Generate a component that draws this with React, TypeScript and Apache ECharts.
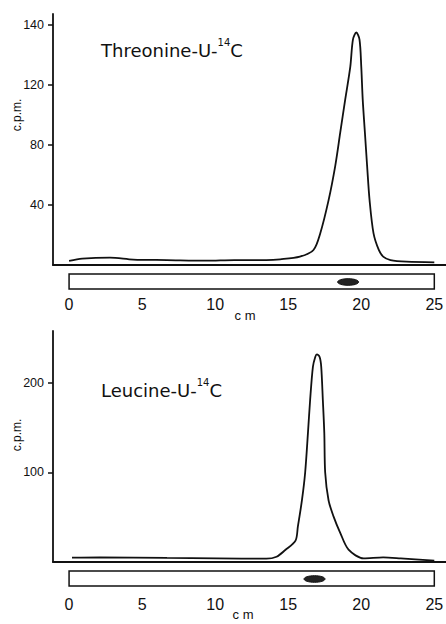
import React, { useEffect, useRef } from "react";
import * as echarts from "echarts";

// ---- Data ----
const threonineCm = [0, 0.9, 2.8, 4.4, 6.7, 9.4, 11.3, 13.5, 14.45, 15.8, 16.73, 17.19, 17.76, 18.22, 18.56, 18.9, 19.25, 19.43, 19.66, 19.88, 20.0, 20.1, 20.25, 20.4, 20.57, 20.84, 21.2, 21.5, 22.0, 23.1, 25.0];
const threonineCpm = [2.7, 4.2, 4.9, 3.6, 3.3, 2.9, 3.3, 3.3, 3.8, 5.6, 10, 21, 43, 66, 88, 110, 132, 150, 154.7, 150, 132, 110, 88, 66, 43, 21, 10, 5.6, 3.3, 2.2, 1.8];
const threonineSpot = 19.1;
const threonineTickValues = [40, 80, 120, 160];
const threonineTickLabels = ["40", "80", "120", "140"];

const leucineCm = [0.2, 2.1, 6.7, 10.1, 13.5, 14.2, 14.8, 15.5, 15.66, 15.94, 16.16, 16.35, 16.5, 16.69, 16.85, 16.96, 17.15, 17.26, 17.37, 17.47, 17.53, 17.76, 18.1, 18.56, 19.13, 20.16, 21.5, 22.7, 25.0];
const leucineCpm = [4.8, 5.2, 4.5, 4.1, 3.7, 5.9, 13.4, 23.8, 39.5, 69, 100, 144, 181, 218, 229, 232, 229, 218, 181, 144, 100, 69, 51, 32.6, 13.8, 4.1, 5.2, 4.1, 1.5];
const leucineSpot = 16.8;
const leucineTickValues = [100, 200];
const leucineTickLabels = ["100", "200"];

const xTickValues = [0, 5, 10, 15, 20, 25];
const stripRange = [0, 25];

const INK = "#111";

function zip(xs: number[], ys: number[]) {
  return xs.map((x, i) => [x, ys[i]]);
}

function stripSeries(gridIdx: number) {
  return {
    type: "custom",
    xAxisIndex: gridIdx,
    yAxisIndex: gridIdx,
    clip: false,
    silent: true,
    encode: { x: [0, 1] },
    data: [[stripRange[0], stripRange[1]]],
    renderItem: (params: any, api: any) => {
      const p0 = api.coord([api.value(0), 0]);
      const p1 = api.coord([api.value(1), 0]);
      return {
        type: "rect",
        shape: { x: p0[0], y: p0[1] + 9, width: p1[0] - p0[0], height: 15 },
        style: { fill: "#fff", stroke: INK, lineWidth: 1.5 },
      };
    },
  };
}

function spotSeries(gridIdx: number, cm: number) {
  return {
    type: "custom",
    xAxisIndex: gridIdx,
    yAxisIndex: gridIdx,
    clip: false,
    silent: true,
    encode: { x: 0, y: 1 },
    data: [[cm, 0]],
    renderItem: (params: any, api: any) => {
      const p = api.coord([api.value(0), 0]);
      return {
        type: "ellipse",
        shape: { cx: p[0], cy: p[1] + 17, rx: 10.5, ry: 3.3 },
        style: { fill: "#222", stroke: INK, lineWidth: 1 },
      };
    },
  };
}

function xAxisFor(gridIdx: number, margin: number) {
  return {
    gridIndex: gridIdx,
    type: "value",
    min: -1.1,
    max: 25.8,
    axisLine: { show: true, onZero: false, lineStyle: { color: INK, width: 1.8 } },
    axisTick: { show: false },
    splitLine: { show: false },
    axisLabel: {
      customValues: xTickValues,
      margin,
      fontSize: 16,
      fontFamily: "Liberation Sans",
      color: INK,
      hideOverlap: false,
    },
  };
}

function yAxisFor(gridIdx: number, max: number, values: number[], labels: string[]) {
  return {
    gridIndex: gridIdx,
    type: "value",
    min: 0,
    max,
    axisLine: { show: true, onZero: false, lineStyle: { color: INK, width: 1.8 } },
    axisTick: { show: true, length: 5, customValues: values, lineStyle: { color: INK, width: 1.5 } },
    splitLine: { show: false },
    axisLabel: {
      customValues: values,
      margin: 9,
      fontSize: 12.5,
      fontFamily: "Liberation Sans",
      color: INK,
      formatter: (v: number) => {
        const i = values.indexOf(v);
        return i >= 0 ? labels[i] : "";
      },
    },
  };
}

function titleText(x: number, y: number, name: string) {
  return {
    type: "text",
    x,
    y,
    style: {
      text: `{a|${name}}{s|14}{a|C}`,
      verticalAlign: "middle",
      rich: {
        a: { fontSize: 18, fontFamily: "DejaVu Sans", fill: INK, lineHeight: 22, verticalAlign: "bottom" },
        s: { fontSize: 10, fontFamily: "DejaVu Sans", fill: INK, lineHeight: 22, verticalAlign: "top" },
      },
    },
  };
}

function vertName(x: number, y: number) {
  return {
    type: "text",
    x,
    y,
    rotation: Math.PI / 2,
    style: {
      text: "c.p.m.",
      fontSize: 12,
      fontFamily: "Liberation Sans",
      fill: INK,
      align: "center",
      verticalAlign: "middle",
    },
  };
}

function cmName(x: number, y: number) {
  return {
    type: "text",
    x,
    y,
    style: {
      text: "c m",
      fontSize: 13,
      fontFamily: "Liberation Sans",
      fill: INK,
      align: "center",
      verticalAlign: "middle",
    },
  };
}

export default function App() {
  const ref = useRef<HTMLDivElement>(null);
  useEffect(() => {
    if (!ref.current) return;
    const chart = echarts.init(ref.current, null, { renderer: "svg" });
    chart.setOption({
      animation: false,
      backgroundColor: "#fff",
      grid: [
        { left: 53, right: 0, top: 14, height: 251, containLabel: false, outerBoundsMode: "none" },
        { left: 53, right: 0, top: 331, height: 231, containLabel: false, outerBoundsMode: "none" },
      ],
      xAxis: [xAxisFor(0, 31), xAxisFor(1, 34)],
      yAxis: [
        yAxisFor(0, 167, threonineTickValues, threonineTickLabels),
        yAxisFor(1, 258, leucineTickValues, leucineTickLabels),
      ],
      series: [
        {
          type: "line",
          xAxisIndex: 0,
          yAxisIndex: 0,
          data: zip(threonineCm, threonineCpm),
          showSymbol: false,
          smooth: 0.3,
          lineStyle: { color: INK, width: 1.8 },
        },
        {
          type: "line",
          xAxisIndex: 1,
          yAxisIndex: 1,
          data: zip(leucineCm, leucineCpm),
          showSymbol: false,
          smooth: 0.3,
          lineStyle: { color: INK, width: 1.8 },
        },
        stripSeries(0),
        spotSeries(0, threonineSpot),
        stripSeries(1),
        spotSeries(1, leucineSpot),
      ],
      graphic: [
        titleText(101, 48, "Threonine-U-"),
        titleText(101, 388, "Leucine-U-"),
        vertName(17, 115),
        vertName(17, 435),
        cmName(245, 315),
        cmName(243, 614),
      ],
    });
    return () => chart.dispose();
  }, []);
  return (
    <div
      ref={ref}
      style={{ position: "fixed", left: 0, top: 0, width: 446, height: 624 }}
    />
  );
}
